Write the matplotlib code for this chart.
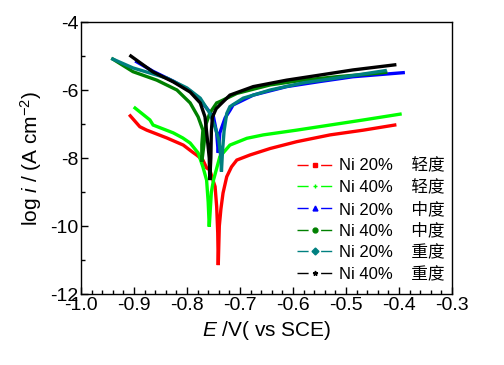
import matplotlib
matplotlib.use("Agg")
import matplotlib.pyplot as plt
from matplotlib.lines import Line2D
from matplotlib.ticker import MultipleLocator, FormatStrFormatter

plt.rcParams['font.family'] = ['Liberation Sans', 'Noto Sans CJK SC']
plt.rcParams['mathtext.fontset'] = 'custom'
plt.rcParams['mathtext.rm'] = 'Liberation Sans'
plt.rcParams['mathtext.it'] = 'Liberation Sans:italic'

# ---------------- data ----------------
labels = ["Ni 20%    轻度", "Ni 40%    轻度", "Ni 20%    中度",
          "Ni 40%    中度", "Ni 20%    重度", "Ni 40%    重度"]
colors = ["#FF0000", "#00FF00", "#0000FF", "#008000", "#008080", "#000000"]
markers = ["s", "+", "^", "o", "D", "*"]

E_red = [-0.907, -0.889, -0.876, -0.838, -0.807, -0.791, -0.782, -0.770, -0.763,
         -0.757, -0.751, -0.747, -0.744, -0.742, -0.741, -0.739, -0.736, -0.732,
         -0.725, -0.716, -0.706, -0.681, -0.643, -0.593, -0.530, -0.467, -0.408]
I_red = [-6.76, -7.08, -7.18, -7.41, -7.62, -7.81, -7.91, -8.06, -8.29,
         -8.35, -8.65, -8.84, -9.43, -10.2, -11.15, -10.0, -9.5, -9.03,
         -8.55, -8.26, -8.06, -7.91, -7.72, -7.52, -7.32, -7.18, -7.03]

E_lgreen = [-0.898, -0.870, -0.864, -0.826, -0.808, -0.794, -0.779, -0.770, -0.763,
            -0.760, -0.758, -0.754, -0.750, -0.738, -0.719, -0.687, -0.656, -0.593,
            -0.530, -0.467, -0.398]
I_lgreen = [-6.53, -6.88, -7.03, -7.26, -7.41, -7.56, -7.85, -8.26, -8.65,
            -9.3, -10.02, -9.0, -8.65, -7.96, -7.62, -7.42, -7.32, -7.18,
            -7.03, -6.88, -6.71]

E_blue = [-0.895, -0.864, -0.826, -0.794, -0.775, -0.762, -0.750, -0.744, -0.741,
          -0.738, -0.728, -0.719, -0.713, -0.675, -0.612, -0.549, -0.487, -0.392]
I_blue = [-5.17, -5.45, -5.74, -6.03, -6.30, -6.55, -6.79, -7.26, -7.85,
          -7.26, -6.82, -6.60, -6.44, -6.15, -5.90, -5.75, -5.61, -5.49]

E_dgreen = [-0.940, -0.902, -0.857, -0.819, -0.794, -0.779, -0.770, -0.772, -0.772,
            -0.768, -0.764, -0.757, -0.744, -0.738, -0.706, -0.643, -0.581, -0.518,
            -0.442, -0.425]
I_dgreen = [-5.09, -5.46, -5.71, -6.00, -6.38, -6.79, -7.18, -7.60, -8.11,
            -7.60, -7.00, -6.68, -6.38, -6.34, -6.10, -5.85, -5.71, -5.61,
            -5.51, -5.48]

E_teal = [-0.940, -0.902, -0.838, -0.800, -0.775, -0.757, -0.747, -0.740, -0.736,
          -0.735, -0.733, -0.730, -0.725, -0.719, -0.694, -0.643, -0.581, -0.518, -0.426]
I_teal = [-5.09, -5.35, -5.65, -5.94, -6.24, -6.68, -7.09, -7.47, -8.00,
          -8.40, -7.80, -7.20, -6.69, -6.49, -6.24, -6.00, -5.79, -5.65, -5.43]

E_black = [-0.906, -0.864, -0.826, -0.794, -0.775, -0.766, -0.762, -0.758, -0.757,
           -0.755, -0.754, -0.752, -0.745, -0.738, -0.719, -0.675, -0.612, -0.549,
           -0.487, -0.408]
I_black = [-5.00, -5.47, -5.76, -6.06, -6.38, -6.79, -7.38, -8.00, -8.65,
           -8.00, -7.20, -6.80, -6.55, -6.44, -6.15, -5.90, -5.71, -5.56,
           -5.41, -5.26]

series_E = [E_red, E_lgreen, E_blue, E_dgreen, E_teal, E_black]
series_I = [I_red, I_lgreen, I_blue, I_dgreen, I_teal, I_black]

# ---------------- figure ----------------
fig = plt.figure(figsize=(5.04, 3.65), dpi=100)
ax = fig.add_axes([0.1607, 0.1945, 0.7361, 0.7452])

for E, I, c in zip(series_E, series_I, colors):
    ax.plot(E, I, color=c, lw=2.4, solid_joinstyle='miter')

ax.set_xlim(-1.0, -0.3)
ax.set_ylim(-12, -4)
ax.xaxis.set_major_locator(MultipleLocator(0.1))
ax.xaxis.set_minor_locator(MultipleLocator(0.02))
ax.yaxis.set_major_locator(MultipleLocator(2))
ax.yaxis.set_minor_locator(MultipleLocator(1))
ax.xaxis.set_major_formatter(FormatStrFormatter('%.1f'))
ax.yaxis.set_major_formatter(FormatStrFormatter('%d'))
ax.tick_params(which='both', direction='in', top=False, right=False, labelsize=14, pad=2)
ax.tick_params(which='major', length=5, width=1)
ax.tick_params(which='minor', length=3, width=1)
for s in ax.spines.values():
    s.set_linewidth(1.0)

ax.set_xlabel(r'$E$ /V( vs SCE)', fontsize=15, labelpad=4)
ax.set_ylabel(r'log $i$ / (A cm$^{-2}$)', fontsize=15, labelpad=4)

handles = [Line2D([0], [0], color=c, lw=1, linestyle=(0, (8, 9)), marker=m,
                  markersize=3.5, markerfacecolor=c, markeredgecolor=c)
           for c, m in zip(colors, markers)]
leg = ax.legend(handles, labels, loc='upper left', bbox_to_anchor=(0.582, 0.50),
                frameon=False, fontsize=12, handlelength=2.2, handletextpad=0.3,
                labelspacing=0.36, borderpad=0, borderaxespad=0, markerscale=1)

fig.savefig('out.png', dpi=100)
